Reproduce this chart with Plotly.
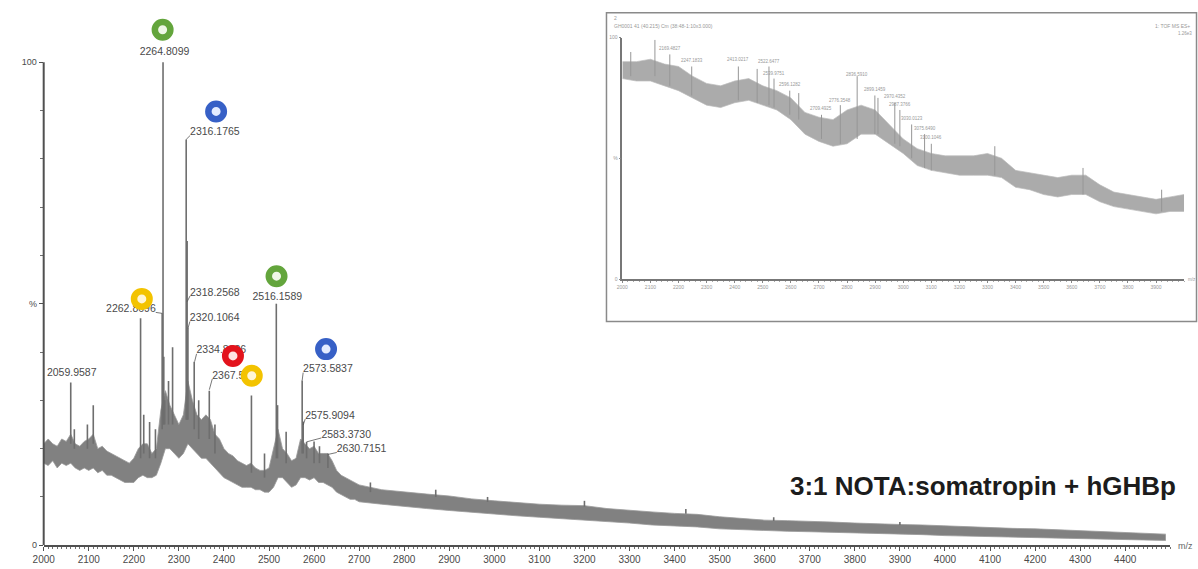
import plotly.graph_objects as go

W, H = 1198, 569

# ---------------- main spectrum data (m/z, % intensity) ----------------
band_mz = list(range(2000, 2701, 10)) + list(range(2750, 4451, 50)) + [4490]
band_lo = [17, 16.5, 17.5, 16, 17, 16.5, 17, 16, 15.5, 16,
           15.5, 16, 15, 15.5, 14.5, 14.5, 14, 13.5, 13, 13,
           13, 14, 14.5, 14, 14, 14.5, 17, 20, 20, 19,
           18, 19, 21, 20, 19, 18, 18, 17, 16, 15,
           14, 13.5, 13, 12.5, 12, 12, 12, 11.5, 11.5, 11,
           11, 12, 14, 14, 13, 12, 12.5, 14, 14, 13.5,
           14, 13, 13, 12.5, 12, 11, 10.5, 10, 9.5, 9.5,
           9,
           8.5, 8, 7.6, 7.2, 6.8, 6.4, 6.1, 5.8, 5.5, 5.3,
           5, 4.6, 4.2, 4, 3.8, 3.4, 3.2, 3, 2.9, 2.8,
           2.7, 2.5, 2.4, 2.3, 2.2, 2, 1.9, 1.7, 1.7, 1.6,
           1.5, 1.4, 1.3, 1.2, 1.1, 1.0]
band_hi = [21, 22, 21, 20.5, 22, 21.5, 23, 21, 20.5, 21.5,
           22, 23, 20, 20.5, 19.5, 19, 18.5, 18, 17.5, 17,
           18, 20, 21, 21, 19, 20, 28, 32, 29, 27,
           25, 27, 34, 30, 27, 26, 27, 26, 23, 22,
           20, 19, 18.5, 17.5, 17, 16.5, 17, 16, 15.5, 15.5,
           16, 20, 24, 20, 19, 17.5, 18, 22, 21, 20,
           20.5, 19, 19, 19, 17.5, 15.5, 14.5, 14, 13.5, 13,
           12.5,
           11.5, 11, 10.6, 10.2, 9.6, 9.2, 8.8, 8.5, 8.3, 8.2,
           7.6, 7.2, 6.9, 6.6, 6.4, 5.9, 5.6, 5.2, 5.1, 5,
           4.8, 4.6, 4.4, 4.3, 4.2, 4, 3.8, 3.7, 3.5, 3.4,
           3.2, 3.1, 2.8, 2.6, 2.4, 2.3]

peak_mz = [2060, 2068, 2097, 2110, 2215, 2222, 2235, 2248, 2262.9, 2264.8, 2266.5,
           2268.5, 2277, 2286, 2316.2, 2318.3, 2320.1, 2334, 2344, 2367.5, 2380,
           2461, 2490, 2516.2, 2519, 2538, 2573.6, 2575.9, 2583.4, 2600, 2612,
           2630.7, 2725, 2870, 2985, 3200, 3425, 3620, 3900]
peak_base = [21, 20, 20, 21, 18, 19, 18, 18, 24, 25, 25,
             25, 25, 25, 26, 26, 26, 24, 22, 22, 19,
             15, 14, 18, 18, 17, 19, 19, 18, 17, 17,
             16, 11, 10, 9, 8, 6.5, 5, 4.2]
peak_top = [33.7, 24, 25, 29, 47, 27, 25.5, 24, 48, 100, 39,
            30, 34, 41, 84, 63, 45, 38, 30, 32, 25,
            31, 19, 50, 29, 23.5, 34.1, 25.6, 21.4, 21.5, 20.5,
            19, 13, 11.5, 10, 9.2, 7.5, 5.8, 4.8]

label_text = ["2059.9587", "2262.8696", "2264.8099", "2316.1765", "2318.2568",
              "2320.1064", "2334.8826", "2367.5342", "2516.1589", "2573.5837",
              "2575.9094", "2583.3730", "2630.7151"]
label_hit = [33.7, 48, 100, 84, 50.4, 44.9, 38, 32.2, 50, 34.1, 24.9, 21.4, 18.8]

ring_mz = [2263.9, 2382.6, 2217.7, 2516.7, 2420.0, 2461.7, 2626.6]
ring_pct = [106.7, 89.8, 51.0, 55.7, 39.2, 35.1, 40.6]
ring_kind = ["green", "blue", "yellow", "green", "red", "yellow", "blue"]

x_ticks = list(range(2000, 4401, 100))

# ---------------- inset spectrum data ----------------
inset_band_mz = list(range(2000, 4001, 50))
inset_lo = [83, 82, 82, 80, 78, 75, 72, 71, 73, 74, 72, 70, 66, 60, 57, 55, 56, 60, 60, 56,
            52, 47, 45, 44, 43, 43, 43, 42, 38, 37, 35, 34, 35, 35, 32, 30, 29, 28, 27, 28, 28]
inset_hi = [90, 90, 91, 89, 88, 84, 81, 80, 82, 83, 80, 78, 75, 69, 67, 66, 70, 72, 70, 64,
            58, 54, 52, 51, 51, 51, 52, 50, 45, 44, 43, 42, 43, 43, 39, 36, 35, 34, 33, 34, 35]
inset_peak_mz = [2030, 2116, 2169, 2247, 2413, 2480, 2522, 2540, 2596, 2628, 2709, 2776,
                 2836, 2899, 2910, 2970, 2988, 3030, 3076, 3100, 3326, 3640, 3920]
inset_peak_base = [84, 84, 80, 76, 74, 73, 72, 71, 68, 66, 58, 56,
                   58, 60, 60, 56, 55, 50, 46, 45, 43, 35, 28]
inset_peak_top = [94, 99, 93, 88, 88, 87, 88, 83, 78, 77, 68, 72,
                  84, 76, 75, 73, 70, 64, 60, 56, 55, 46, 37]
inset_ticks = list(range(2000, 4000, 100))
inset_label_text = ["2116.3658", "2169.4827", "2247.1833", "2413.0217", "2522.6477",
                    "2539.9751", "2596.1282", "2709.4925", "2776.3548", "2836.5910",
                    "2899.1459", "2970.4352", "2987.3766", "3030.0123", "3075.6490",
                    "3100.1046"]
inset_label_mz = [2116, 2169, 2247, 2413, 2522, 2540, 2596, 2709, 2776, 2836,
                  2899, 2970, 2988, 3030, 3076, 3100]
inset_label_pct = [101.6, 95.5, 90.6, 91.0, 90.2, 84.9, 80.4, 70.6, 73.9, 84.5,
                   78.4, 75.5, 72.2, 66.5, 62.4, 58.4]

# ---------------- layout geometry ----------------
X0_PX, X1_PX = 33, 1170          # 2000 and 4500
Y0_PX, Y100_PX, YTOP_PX = 550, 60, 10
XR = [2000, 4500]
ymax = 100 * (Y0_PX - YTOP_PX) / (Y0_PX - Y100_PX)
YR = [0, ymax]
XDOM = [X0_PX / W, X1_PX / W]
YDOM = [(H - Y0_PX) / H, (H - YTOP_PX) / H]
sx = (X1_PX - X0_PX) / (XR[1] - XR[0])   # px per m/z
sy = (Y0_PX - Y100_PX) / 100.0           # px per %

# text-centre offsets (px) of each label relative to its peak point, and connector side
label_off = [(1, -9, 0), (-31.5, -4, -1), (1.5, -10, 0), (29, -7, 1), (28, -9, 1),
             (27, -10, 1), (27, -11, 1), (28, -14, 1), (1, -6, 0), (26, -11, 1),
             (27, -9, 1), (40, -7, 1), (34, -5, 1)]

ring_colors = {"green": ("#63a53c", "#eef7e6"), "blue": ("#3760c6", "#e4ecff"),
               "yellow": ("#f3c300", "#fff6d6"), "red": ("#e3131c", "#ffe4e4")}

FONT = "Liberation Sans, Arial, sans-serif"

fig = go.Figure()

# noise band
fig.add_trace(go.Scatter(x=band_mz, y=band_lo, mode="lines", line=dict(width=0.8, color="#999999"),
                         hoverinfo="skip", showlegend=False))
fig.add_trace(go.Scatter(x=band_mz, y=band_hi, mode="lines", line=dict(width=0.8, color="#999999"),
                         fill="tonexty", fillcolor="#7f7f7f",
                         fillpattern=dict(shape="|", bgcolor="#888888", fgcolor="#6c6c6c",
                                          size=2, solidity=0.5),
                         hoverinfo="skip", showlegend=False))

# peaks
px_, py_ = [], []
for m, b, t in zip(peak_mz, peak_base, peak_top):
    px_ += [m, m, None]
    py_ += [b, t, None]
fig.add_trace(go.Scatter(x=px_, y=py_, mode="lines", line=dict(width=1.6, color="#6e6e6e"),
                         hoverinfo="skip", showlegend=False))

# labels + connectors
label_mz = [float(t) for t in label_text]
tx, ty, cx, cy = [], [], [], []
for m, h, (dx, dy, c) in zip(label_mz, label_hit, label_off):
    tx.append(m + dx / sx)
    ty.append(h - dy / sy)
    if c != 0:
        ex = dx - c * 25
        ey = dy + 3
        cx += [m, m + ex / sx, None]
        cy += [h, h - ey / sy, None]
fig.add_trace(go.Scatter(x=cx, y=cy, mode="lines", line=dict(width=0.8, color="#555555"),
                         hoverinfo="skip", showlegend=False))
fig.add_trace(go.Scatter(x=tx, y=ty, mode="text", text=label_text, textposition="middle center",
                         textfont=dict(family=FONT, size=10.5, color="#4a4a4a"),
                         hoverinfo="skip", showlegend=False, cliponaxis=False))

# glycoform rings (drawn above labels)
fig.add_trace(go.Scatter(x=ring_mz, y=ring_pct, mode="markers",
                         marker=dict(symbol="circle", size=15.5,
                                     color=[ring_colors[k][1] for k in ring_kind],
                                     line=dict(width=6.5, color=[ring_colors[k][0] for k in ring_kind])),
                         hoverinfo="skip", showlegend=False, cliponaxis=False))

# inset spectrum
fig.add_trace(go.Scatter(x=inset_band_mz, y=inset_lo, mode="lines", xaxis="x2", yaxis="y2",
                         line=dict(width=0.7, color="#bcbcbc"), hoverinfo="skip", showlegend=False))
fig.add_trace(go.Scatter(x=inset_band_mz, y=inset_hi, mode="lines", xaxis="x2", yaxis="y2",
                         line=dict(width=0.7, color="#bcbcbc"), fill="tonexty", fillcolor="#ababab",
                         hoverinfo="skip", showlegend=False))
ipx, ipy = [], []
for m, b, t in zip(inset_peak_mz, inset_peak_base, inset_peak_top):
    ipx += [m, m, None]
    ipy += [b, t, None]
fig.add_trace(go.Scatter(x=ipx, y=ipy, mode="lines", xaxis="x2", yaxis="y2",
                         line=dict(width=1, color="#969696"), hoverinfo="skip", showlegend=False))

annotations = []
annotations.append(dict(text="<b>3:1 NOTA:somatropin + hGHBp</b>", xref="paper", yref="paper",
                        x=1178 / W, y=1 - 490 / H, xanchor="right", yanchor="middle",
                        showarrow=False, font=dict(family=FONT, size=26, color="#1c1c1c")))
annotations.append(dict(text="m/z", xref="paper", yref="paper", x=1176 / W, y=1 - 551 / H,
                        xanchor="left", yanchor="middle", showarrow=False,
                        font=dict(family=FONT, size=9, color="#666")))
for t, m, p in zip(inset_label_text, inset_label_mz, inset_label_pct):
    annotations.append(dict(text=t, xref="x2", yref="y2", x=m, y=p, showarrow=False,
                            font=dict(family=FONT, size=4.5, color="#999")))
annotations += [
    dict(text="GH0001 41 (40.215) Cm (38:48-1:10x3.000)", xref="paper", yref="paper",
         x=607 / W, y=1 - 23 / H, xanchor="left", yanchor="middle", showarrow=False,
         font=dict(family=FONT, size=5, color="#999")),
    dict(text="2", xref="paper", yref="paper", x=607 / W, y=1 - 15 / H, xanchor="left",
         yanchor="middle", showarrow=False, font=dict(family=FONT, size=5, color="#999")),
    dict(text="1: TOF MS ES+", xref="paper", yref="paper", x=1192 / W, y=1 - 23 / H,
         xanchor="right", yanchor="middle", showarrow=False,
         font=dict(family=FONT, size=5, color="#999")),
    dict(text="1.26e3", xref="paper", yref="paper", x=1194 / W, y=1 - 31 / H,
         xanchor="right", yanchor="middle", showarrow=False,
         font=dict(family=FONT, size=4.5, color="#999")),
    dict(text="m/z", xref="paper", yref="paper", x=1186 / W, y=1 - 280 / H, xanchor="left",
         yanchor="middle", showarrow=False, font=dict(family=FONT, size=4.5, color="#999")),
]

shapes = [
    dict(type="rect", xref="paper", yref="paper", x0=601 / W, x1=1196.5 / W,
         y0=1 - 323 / H, y1=1 - 10 / H, line=dict(color="#8a8a8a", width=1.5)),
    # main intensity axis line (0-100 %)
    dict(type="line", xref="paper", yref="y", x0=XDOM[0], x1=XDOM[0], y0=0, y1=100,
         line=dict(color="#505050", width=2)),
]

fig.update_layout(
    width=W, height=H, margin=dict(l=0, r=0, t=0, b=0),
    paper_bgcolor="white", plot_bgcolor="white", showlegend=False,
    annotations=annotations, shapes=shapes,
    xaxis=dict(domain=XDOM, range=XR, anchor="y", showgrid=False, zeroline=False,
               showline=True, linecolor="#505050", linewidth=2,
               tickmode="array", tickvals=x_ticks, ticktext=[str(v) for v in x_ticks],
               ticks="outside", ticklen=4, tickwidth=1, tickcolor="#505050",
               tickfont=dict(family=FONT, size=10, color="#4a4a4a"),
               minor=dict(tickmode="linear", tick0=2000, dtick=10, ticks="outside",
                          ticklen=2, tickcolor="#707070", tickwidth=0.8)),
    yaxis=dict(domain=YDOM, range=YR, anchor="x", showgrid=False, zeroline=False,
               showline=False,
               tickmode="array", tickvals=[0, 50, 100], ticktext=["0", "%", "100"],
               ticks="outside", ticklen=4, tickwidth=1, tickcolor="#505050",
               tickfont=dict(family=FONT, size=9, color="#4a4a4a"),
               minor=dict(tickmode="array", tickvals=list(range(10, 100, 10)), ticks="outside",
                          ticklen=3, tickcolor="#707070", tickwidth=0.8)),
    xaxis2=dict(domain=[617 / W, 1184 / W], range=[2000, 4000], anchor="y2", showgrid=False,
                zeroline=False, showline=True, linecolor="#777", linewidth=1.5,
                tickmode="array", tickvals=inset_ticks, ticktext=[str(v) for v in inset_ticks],
                ticks="outside", ticklen=2, tickcolor="#888",
                tickfont=dict(family=FONT, size=5, color="#999"),
                minor=dict(tickmode="linear", tick0=2000, dtick=20, ticks="outside",
                           ticklen=1.5, tickcolor="#aaa")),
    yaxis2=dict(domain=[289 / H, 534 / H], range=[0, 100], anchor="x2", showgrid=False,
                zeroline=False, showline=True, linecolor="#777", linewidth=1.5,
                tickmode="array", tickvals=[0, 50, 100], ticktext=["0", "%", "100"],
                ticks="outside", ticklen=2, tickcolor="#888",
                tickfont=dict(family=FONT, size=5, color="#999")),
)

fig.write_html("out.html")
